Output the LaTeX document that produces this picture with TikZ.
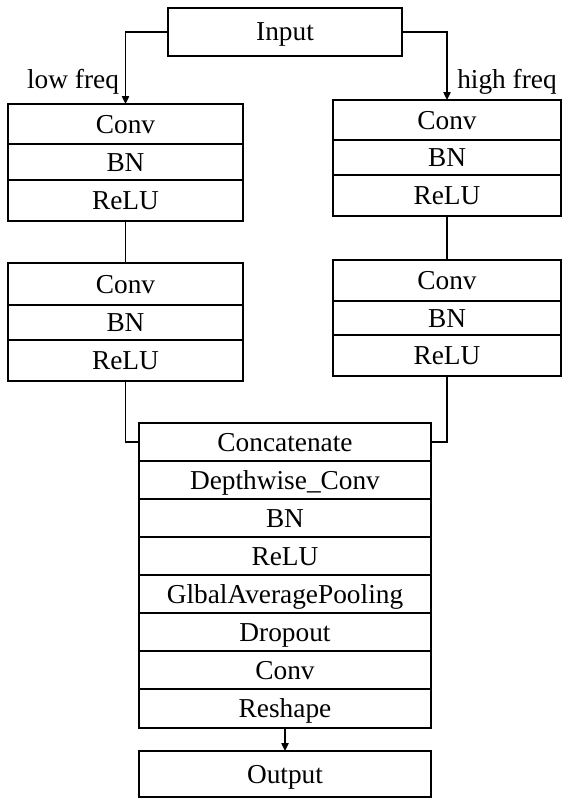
\documentclass[tikz,border=0pt]{standalone}
\usepackage{fontspec}
\setmainfont{Liberation Serif}
\usetikzlibrary{arrows.meta}
\newcommand\rowbox[6]{\node[box, minimum width={(#3-#2)*0.75pt}, minimum height={(#5-#4)*0.75pt}] (#1) at ({(#2+#3)/2},{(#4+#5)/2}) {#6};}
\begin{document}
\begin{tikzpicture}[x=0.75pt,y=-0.75pt,
  box/.style={draw, line width=1pt, inner sep=0pt, outer sep=0pt, text height=15.5pt, text depth=2pt, font=\fontsize{20.5}{24}\selectfont},
  lbl/.style={inner sep=0pt, font=\fontsize{20.5}{24}\selectfont},
  conn/.style={line width=1pt},
  arr/.style={line width=1pt, -{Triangle[length=6pt,width=5.5pt]}}]
\useasboundingbox (0,0) rectangle (563,799);
% input
\rowbox{in}{168}{402}{8}{56}{Input}
% left branch
\rowbox{la1}{8}{243}{104}{144}{Conv}
\rowbox{lb1}{8}{243}{144}{180}{BN}
\rowbox{lc1}{8}{243}{180}{221}{ReLU}
\rowbox{la2}{8}{243}{263}{305}{Conv}
\rowbox{lb2}{8}{243}{305}{340}{BN}
\rowbox{lc2}{8}{243}{340}{381}{ReLU}
% right branch
\rowbox{ra1}{333}{561}{100}{140}{Conv}
\rowbox{rb1}{333}{561}{140}{175}{BN}
\rowbox{rc1}{333}{561}{175}{216}{ReLU}
\rowbox{ra2}{333}{561}{260}{301}{Conv}
\rowbox{rb2}{333}{561}{301}{335}{BN}
\rowbox{rc2}{333}{561}{335}{376}{ReLU}
% merged stack
\rowbox{cat}{139}{431}{423}{461}{Concatenate}
\rowbox{dw}{139}{431}{461}{499}{Depthwise\_Conv}
\rowbox{bn}{139}{431}{499}{537}{BN}
\rowbox{relu}{139}{431}{537}{575}{ReLU}
\rowbox{gap}{139}{431}{575}{613}{GlbalAveragePooling}
\rowbox{drop}{139}{431}{613}{651}{Dropout}
\rowbox{conv}{139}{431}{651}{689}{Conv}
\rowbox{resh}{139}{431}{689}{728}{Reshape}
\rowbox{out}{139}{431}{751}{797}{Output}
% labels
\node[lbl] (low) at (73,82) {low freq};
\node[lbl] (high) at (507,82) {high freq};
% connectors
\draw[arr] (in.west) -| (la1.north);
\draw[arr] (in.east) -| (ra1.north);
\draw[conn] (lc1.south) -- (la2.north);
\draw[conn] (rc1.south) -- (ra2.north);
\draw[conn] (lc2.south) |- (cat.west);
\draw[conn] (rc2.south) |- (cat.east);
\draw[arr] (resh.south) -- (out.north);
\end{tikzpicture}
\end{document}
